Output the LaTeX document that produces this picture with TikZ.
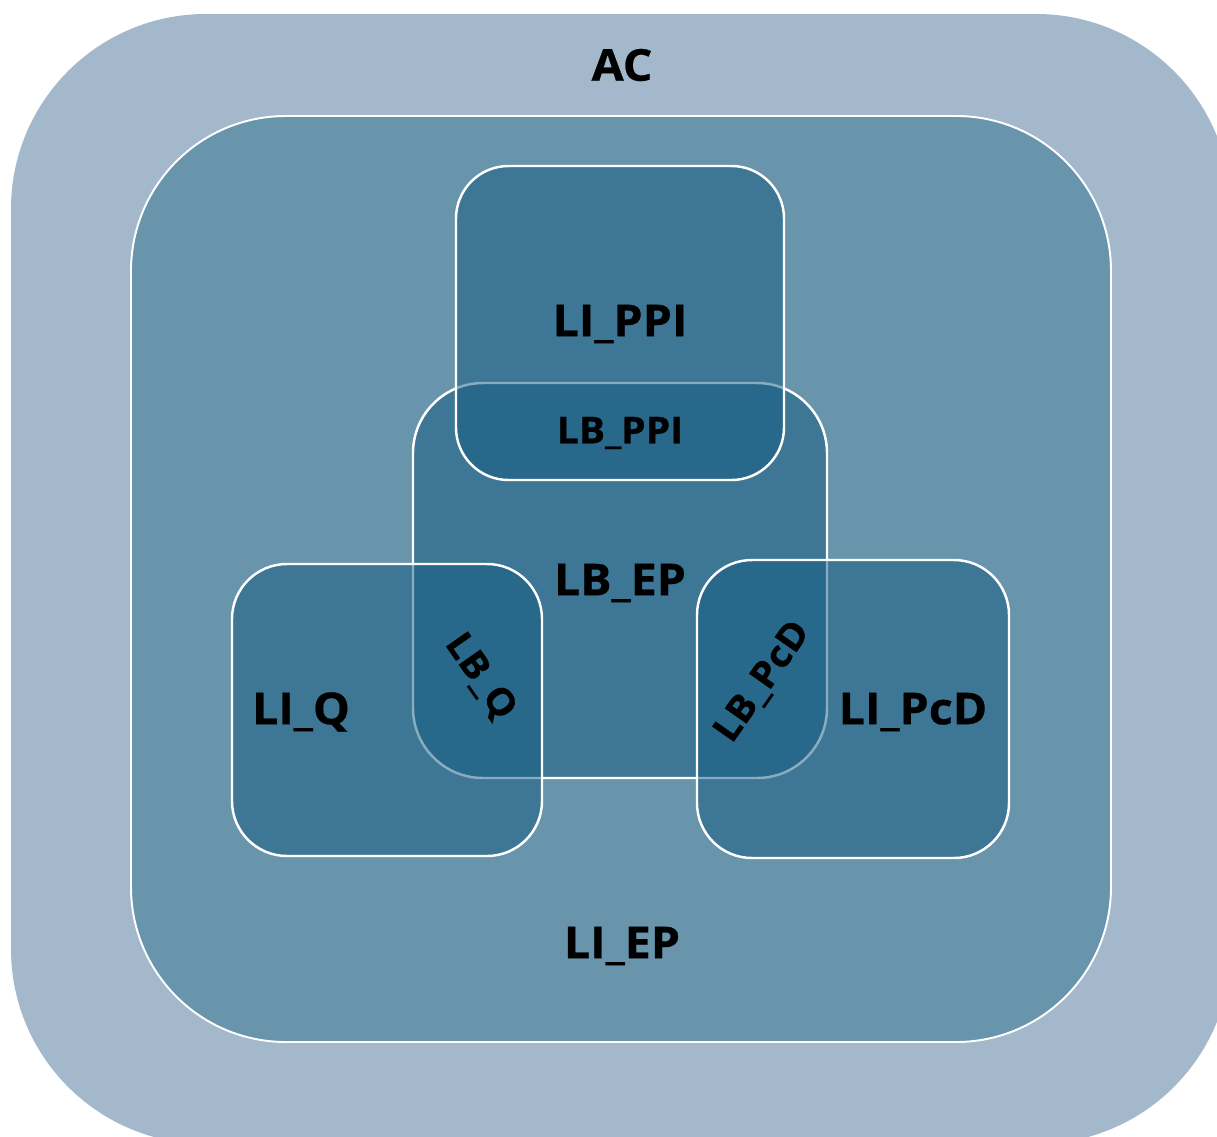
\documentclass[tikz,border=0pt]{standalone}
\usepackage{fontspec}
\setmainfont{Open Sans}[BoldFeatures={FakeStretch=1.06,FakeBold=0.6}]
\usepackage{tikz}
\usetikzlibrary{positioning}
\definecolor{acblue}{HTML}{A3B8CB}
\definecolor{epblue}{HTML}{6895AB}
\definecolor{setblue}{HTML}{145B81}
\tikzset{
    region/.style={fill=acblue, draw=none},
    bigset/.style={fill=epblue, draw=white, line width=1.1pt},
    subset/.style={fill=setblue, fill opacity=0.5, draw=white, draw opacity=1, line width=1.4pt},
    biglabel/.style={font=\bfseries\fontsize{25}{30}\selectfont, text=black, inner sep=0pt},
    smalllabel/.style={font=\bfseries\fontsize{21}{25}\selectfont, text=black, inner sep=0pt},
}

\begin{document}
\begin{tikzpicture}[x=0.02cm, y=-0.02cm]
	\clip (0,0) rectangle (1217,1136);
	\fill[white] (0,0) rectangle (1217,1136);
	% sets
	\draw[region] (11,14) [rounded corners=3.9cm] rectangle (1231,1144);
	\draw[bigset] (131,116) [rounded corners=3.1cm] rectangle (1111,1042);
	\draw[subset] (413,383) [rounded corners=1.4cm] rectangle (827,778);
	\draw[subset] (456,166) [rounded corners=1.05cm] rectangle (784,480);
	\draw[subset] (232,564) [rounded corners=1.1cm] rectangle (542,856);
	\draw[subset] (697,560) [rounded corners=1.1cm] rectangle (1009,858);
	% labels
	\node[biglabel] (ac) at (622,65) {AC};
	\node[biglabel] (lippi) at (620,324) {LI\_PPI};
	\node[smalllabel] (lbppi) at (620,433) {LB\_PPI};
	\node[biglabel] (lbep) at (620,583) {LB\_EP};
	\node[biglabel] (liq) at (301,712) {LI\_Q};
	\node[biglabel] (lipcd) at (913,712) {LI\_PcD};
	\node[biglabel] (liep) at (622,946) {LI\_EP};
	\node[smalllabel, rotate=-55] (lbq) at (480,677) {LB\_Q};
	\node[smalllabel, rotate=55] (lbpcd) at (763,682) {LB\_PcD};
\end{tikzpicture}
\end{document}
